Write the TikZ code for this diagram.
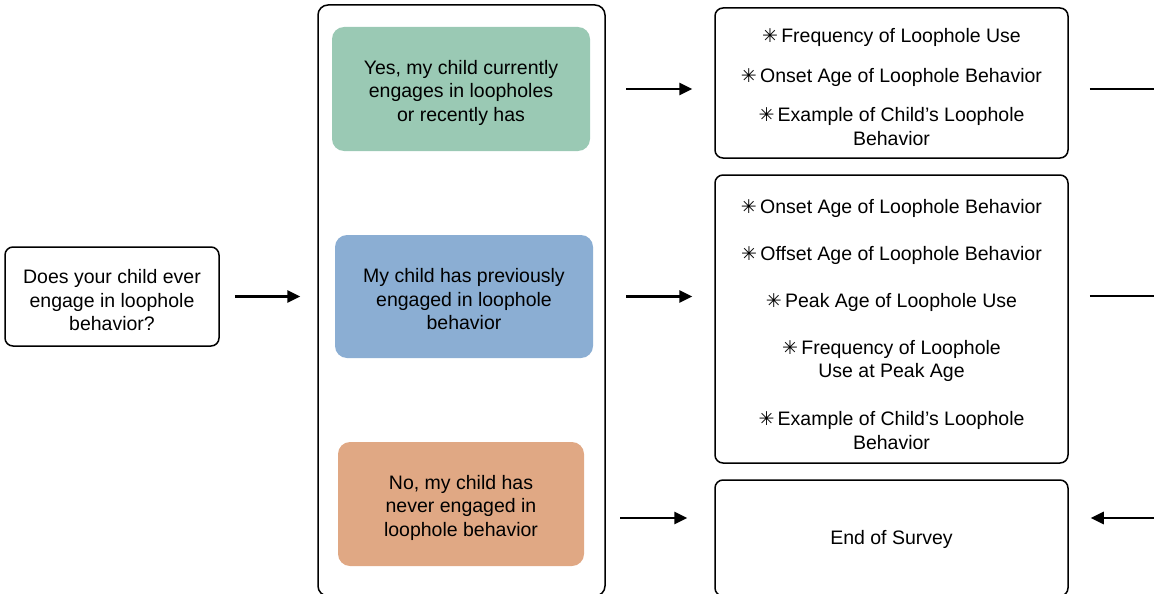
\documentclass[tikz,border=0pt]{standalone}
\usepackage{fontspec}
\setmainfont{Liberation Sans}
\newfontfamily\starfont{DejaVu Sans}
\usetikzlibrary{arrows.meta,positioning}
\definecolor{yescol}{RGB}{154,201,180}
\definecolor{prevcol}{RGB}{139,174,211}
\definecolor{nevercol}{RGB}{224,168,132}
\newcommand{\starmark}{{\starfont\fontsize{19}{19}\selectfont ✳}\,}
\newcommand{\lift}[1]{\rule{0pt}{#1}}

\begin{document}
\begin{tikzpicture}[x=1pt, y=-1pt,
		box/.style={draw, line width=1.5pt, rounded corners=8pt, align=center, inner sep=0pt},
		answer/.style={rounded corners=12pt, align=center, inner sep=0pt, minimum height=124pt},
		arr/.style={line width=2.6pt, -{Triangle[length=13pt,width=12pt]}},
		font=\fontsize{19.5}{23.5}\selectfont]
	\useasboundingbox (0,0) rectangle (1154,594);
	\node[box, minimum width=214pt, minimum height=99pt] (q) at (112,296.5)
		{\lift{22pt}Does your child ever\\ engage in loophole\\ behavior?};
	\node[box, rounded corners=10pt, minimum width=287pt, minimum height=591pt] (opts) at (461.5,300.5) {};
	\node[answer, fill=yescol, minimum width=258pt] (yes) at (461,89)
		{\lift{22pt}Yes, my child currently\\ engages in loopholes\\ or recently has};
	\node[answer, fill=prevcol, minimum width=258pt, minimum height=123pt] (prev) at (464,296.5)
		{\lift{20pt}My child has previously\\ engaged in loophole\\ behavior};
	\node[answer, fill=nevercol, minimum width=246pt] (never) at (461,504)
		{\lift{22pt}No, my child has\\ never engaged in\\ loophole behavior};
	\node[box, minimum width=353pt, minimum height=150pt] (current) at (891.5,83)
		{\lift{22pt}\starmark Frequency of Loophole Use\\[16.5pt]
		\starmark Onset Age of Loophole Behavior\\[16pt]
		\starmark Example of Child’s Loophole\\ Behavior};
	\node[box, minimum width=353pt, minimum height=288pt] (past) at (891.5,319)
		{\lift{25pt}\starmark Onset Age of Loophole Behavior\\[23.5pt]
		\starmark Offset Age of Loophole Behavior\\[23.5pt]
		\starmark Peak Age of Loophole Use\\[23.5pt]
		\starmark Frequency of Loophole\\ Use at Peak Age\\[24.5pt]
		\starmark Example of Child’s Loophole\\ Behavior};
	\node[box, minimum width=353pt, minimum height=116pt] (end) at (891.5,538) {\lift{18pt}End of Survey};
	\coordinate (out1) at (1170,89);
	\coordinate (out2) at (1170,296);
	\coordinate (out3) at (1170,518);
	\draw[arr, shorten <=15pt, shorten >=17pt] (q) -- (q -| opts.west);
	\draw[arr, shorten <=36pt, shorten >=22pt] (yes) -- (yes -| current.west);
	\draw[arr, shorten <=33pt, shorten >=22pt] (prev) -- (prev -| past.west);
	\draw[arr, shorten <=36pt, shorten >=27pt] ([yshift=-14pt]never.east) -- ([yshift=-14pt]never.east -| end.west);
	\draw[line width=2.6pt, shorten <=21pt] (current.east |- out1) -- (out1);
	\draw[line width=2.6pt, shorten <=21pt] (past.east |- out2) -- (out2);
	\draw[arr, shorten >=22pt] (out3) -- (out3 -| end.east);
\end{tikzpicture}
\end{document}
